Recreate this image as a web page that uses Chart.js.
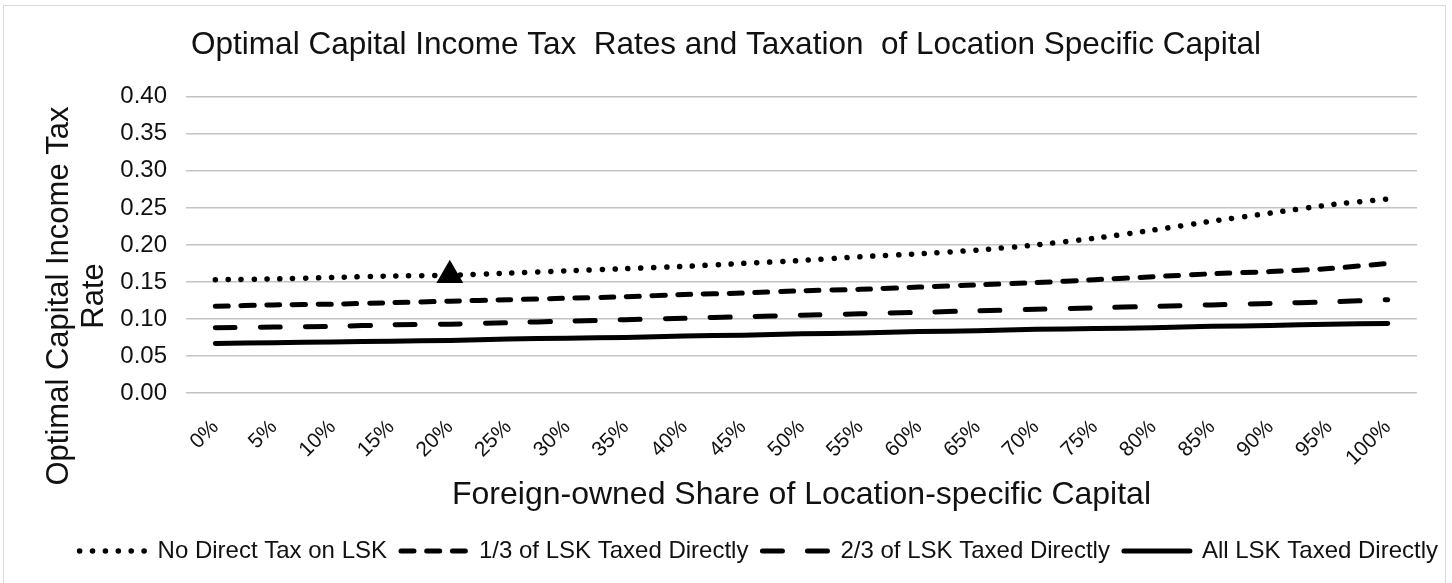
<!DOCTYPE html>
<html><head><meta charset="utf-8">
<script src="https://cdn.jsdelivr.net/npm/chart.js@4/dist/chart.umd.min.js"></script>
<style>
html,body{margin:0;padding:0;background:#fff;overflow:hidden;}
#frame{position:absolute;left:3px;top:5px;width:1443px;height:590px;border:1px solid #d9d9d9;box-sizing:border-box;}
#wrap{position:absolute;left:0;top:0;width:1452px;height:583px;}
</style></head><body>
<div id="frame"></div>
<div id="wrap"><canvas id="c" width="1452" height="583"></canvas></div>
<script>
const categories = ['0%','5%','10%','15%','20%','25%','30%','35%','40%','45%','50%','55%','60%','65%','70%','75%','80%','85%','90%','95%','100%'];
const noDirectTax    = [0.153,0.154,0.156,0.158,0.159,0.162,0.165,0.168,0.171,0.175,0.179,0.184,0.188,0.193,0.200,0.209,0.220,0.232,0.243,0.254,0.262];
const oneThirdTaxed  = [0.117,0.119,0.120,0.122,0.124,0.126,0.128,0.130,0.133,0.135,0.138,0.140,0.143,0.146,0.149,0.153,0.157,0.161,0.164,0.168,0.175];
const twoThirdsTaxed = [0.088,0.089,0.090,0.092,0.093,0.095,0.097,0.099,0.101,0.103,0.105,0.107,0.109,0.111,0.113,0.115,0.117,0.119,0.121,0.123,0.126];
const allTaxed       = [0.067,0.068,0.069,0.070,0.071,0.073,0.074,0.075,0.077,0.078,0.080,0.081,0.083,0.084,0.086,0.087,0.088,0.090,0.091,0.093,0.094];
const seriesNames = ['No Direct Tax on LSK','1/3 of LSK Taxed Directly','2/3 of LSK Taxed Directly','All LSK Taxed Directly'];
const markerIndex = 4; // 20% point highlighted with a triangle
const yMin = 0, yMax = 0.40, yStep = 0.05;
const chartTitle = 'Optimal Capital Income Tax  Rates and Taxation  of Location Specific Capital';
const xTitle = 'Foreign-owned Share of Location-specific Capital';
const yTitle = ['Optimal Capital Income Tax', 'Rate'];

const FONT = "'Liberation Sans', Arial, sans-serif";
const TXT = '#111111';
const dashes = [[0.1, 12.8], [13, 12.7], [20, 25], []];
const widths = [5.5, 5, 5, 5];
const series = [noDirectTax, oneThirdTaxed, twoThirdsTaxed, allTaxed];

const yTitlePlugin = {
  id: 'yTitle',
  afterDraw(chart) {
    const ctx = chart.ctx;
    ctx.save();
    ctx.fillStyle = TXT;
    ctx.font = "31px " + FONT;
    ctx.textAlign = 'center';
    ctx.textBaseline = 'middle';
    ctx.translate(0, 296);
    ctx.rotate(-Math.PI / 2);
    ctx.fillText(yTitle[0], 0, 59);
    ctx.fillText(yTitle[1], 0, 94);
    ctx.restore();
  }
};

new Chart(document.getElementById('c'), {
  type: 'line',
  data: {
    labels: categories,
    datasets: series.map((d, i) => ({
      label: seriesNames[i],
      data: d,
      borderColor: '#000',
      backgroundColor: '#000',
      borderWidth: widths[i],
      borderDash: dashes[i],
      borderCapStyle: 'round',
      tension: 0.2,
      fill: false,
      pointStyle: 'triangle',
      pointRadius: i === 0 ? d.map((v, k) => k === markerIndex ? 15.5 : 0) : 0,
      pointBorderWidth: 0,
      pointHoverRadius: 0
    }))
  },
  options: {
    responsive: false,
    animation: false,
    devicePixelRatio: 1,
    layout: { padding: { left: 0, right: 0, top: 0, bottom: 10 } },
    plugins: {
      tooltip: { enabled: false },
      title: {
        display: true,
        text: chartTitle,
        color: TXT,
        font: { family: FONT, size: 31.5, weight: 'normal' },
        padding: { top: 26, bottom: 33 }
      },
      legend: {
        position: 'bottom',
        align: 'end',
        labels: {
          font: { family: FONT, size: 24 },
          color: TXT,
          usePointStyle: true,
          pointStyleWidth: 66,
          padding: 14,
          generateLabels(chart) {
            return chart.data.datasets.map((ds, i) => ({
              text: ds.label,
              fillStyle: '#000',
              strokeStyle: '#000',
              lineWidth: widths[i],
              lineDash: dashes[i],
              lineCap: 'round',
              pointStyle: 'line',
              fontColor: TXT,
              datasetIndex: i,
              hidden: false
            }));
          }
        }
      }
    },
    scales: {
      x: {
        type: 'category',
        offset: true,
        grid: { display: false, drawTicks: false },
        border: { display: false },
        ticks: { color: TXT, font: { family: FONT, size: 21 }, minRotation: 45, maxRotation: 45, padding: 22, autoSkip: false },
        title: { display: true, text: xTitle, color: TXT, font: { family: FONT, size: 32 }, padding: { top: 0, bottom: 11 } },
        afterFit(s) { s.height = 132; }
      },
      y: {
        min: yMin, max: yMax,
        grid: { color: '#c4c4c4', lineWidth: 1.5, drawTicks: false },
        border: { display: false },
        ticks: { stepSize: yStep, color: TXT, font: { family: FONT, size: 24 }, padding: 19, callback: v => v.toFixed(2) },
        afterFit(s) { s.width = 186; }
      },
      pad: {
        type: 'linear', position: 'right', display: true,
        grid: { display: false, drawTicks: false }, border: { display: false },
        ticks: { display: false },
        afterFit(s) { s.width = 35; }
      }
    }
  },
  plugins: [yTitlePlugin]
});
</script>
</body></html>
